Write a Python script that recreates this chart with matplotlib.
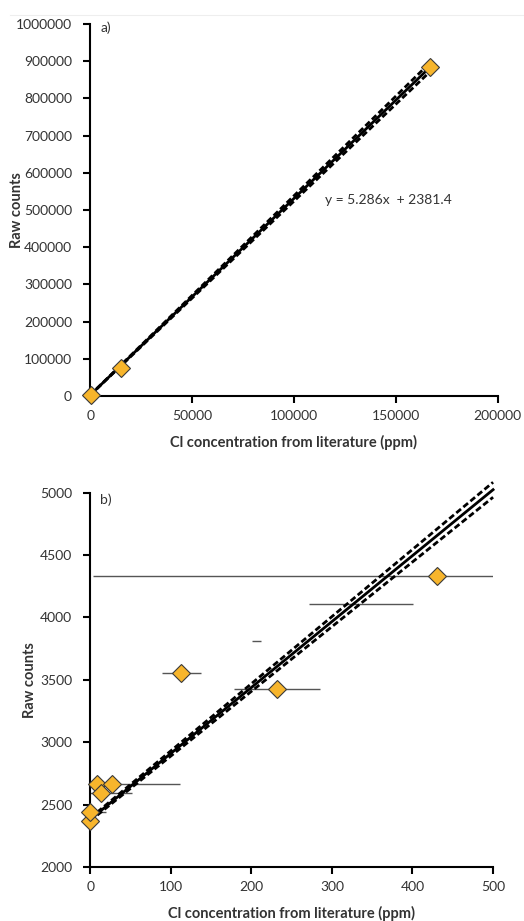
import matplotlib
matplotlib.use('Agg')
import matplotlib.pyplot as plt
from matplotlib.lines import Line2D

plt.rcParams['font.family'] = ['Lato', 'DejaVu Sans']

# ---- panel a data (calibration, full range) ----
a_x = [300, 15200, 166700]
a_y = [2400, 75700, 884000]
a_fit_x = [0, 166700]
a_fit_y = [2381.4, 883550]
a_up_y = [2420, 895500]
a_lo_y = [2340, 871500]
a_xticks = [0, 50000, 100000, 150000, 200000]
a_yticks = [0, 100000, 200000, 300000, 400000, 500000, 600000, 700000, 800000, 900000, 1000000]

# ---- panel b data (low range, with horizontal error bars) ----
b_x = [0, 0, 8, 13, 27, 113, 232, 430]
b_y = [2370, 2440, 2665, 2595, 2665, 3552, 3428, 4335]
b_xerr = [0, 20, 0, 39, 85, 24, 53, 426]
# error bars without a visible marker
b_bar_x = [206, 336]
b_bar_y = [3810, 4108]
b_bar_err = [5.5, 65]
b_fit_x = [0, 500]
b_fit_y = [2381.4, 5024.4]
b_up_y = [2392, 5084]
b_lo_y = [2370, 4964]
b_xticks = [0, 100, 200, 300, 400, 500]
b_yticks = [2000, 2500, 3000, 3500, 4000, 4500, 5000]

fill = '#F7B52C'
edge = '#3a3a3a'
tick_fs = 10
lab_fs = 10.5
dash = (0, (2.2, 1.1))

fig = plt.figure(figsize=(5.24, 9.21), dpi=100)
ax1 = fig.add_axes([0.172, 0.570, 0.778, 0.404])
ax2 = fig.add_axes([0.172, 0.0586, 0.769, 0.4064])

fig.add_artist(Line2D([0.02, 1.0], [0.984, 0.984], color='#eeeeee', lw=0.8))


def style(ax, ylab_x):
    for s in ['top', 'right']:
        ax.spines[s].set_visible(False)
    for s in ['left', 'bottom']:
        ax.spines[s].set_linewidth(1.5)
        ax.spines[s].set_color('black')
    ax.tick_params(axis='both', direction='out', length=5, width=1.5,
                   labelsize=tick_fs, colors='black', labelcolor='#333333')
    ax.tick_params(axis='y', pad=8)
    ax.tick_params(axis='x', pad=5)
    ax.ticklabel_format(style='plain', useOffset=False)
    ax.set_xlabel('Cl concentration from literature (ppm)', fontsize=lab_fs,
                  fontweight='bold', color='#333333', va='center')
    ax.set_ylabel('Raw counts', fontsize=lab_fs, fontweight='bold',
                  color='#333333', va='center')
    ax.xaxis.set_label_coords(0.5, -0.124)
    ax.yaxis.set_label_coords(ylab_x, 0.5)


# panel a
ax1.plot(a_fit_x, a_up_y, color='black', lw=2.0, ls=dash, zorder=2)
ax1.plot(a_fit_x, a_lo_y, color='black', lw=2.0, ls=dash, zorder=2)
ax1.plot(a_fit_x, a_fit_y, color='black', lw=2.0, zorder=3)
ax1.plot(a_x, a_y, ls='none', marker='D', ms=9, mfc=fill, mec=edge, mew=0.8,
         zorder=4, clip_on=False)
ax1.set_xlim(0, 200000)
ax1.set_ylim(0, 1000000)
ax1.set_xticks(a_xticks)
ax1.set_yticks(a_yticks)
style(ax1, -0.179)
ax1.text(0.025, 0.989, 'a)', transform=ax1.transAxes, fontsize=tick_fs,
         va='center', ha='left', color='#333333')
ax1.text(115200, 527000, 'y = 5.286x  + 2381.4', fontsize=tick_fs,
         va='center', ha='left', color='#333333')

# panel b
ax2.errorbar(b_x, b_y, xerr=b_xerr, fmt='none', ecolor='#555555', elinewidth=1.0,
             capsize=0, zorder=1)
ax2.errorbar(b_bar_x, b_bar_y, xerr=b_bar_err, fmt='none', ecolor='#555555',
             elinewidth=1.0, capsize=0, zorder=1)
ax2.plot(b_fit_x, b_up_y, color='black', lw=2.0, ls=dash, zorder=2, clip_on=False)
ax2.plot(b_fit_x, b_lo_y, color='black', lw=2.0, ls=dash, zorder=2, clip_on=False)
ax2.plot(b_fit_x, b_fit_y, color='black', lw=2.0, zorder=3, clip_on=False)
ax2.plot(b_x, b_y, ls='none', marker='D', ms=9, mfc=fill, mec=edge, mew=0.8,
         zorder=4, clip_on=False)
ax2.set_xlim(0, 500)
ax2.set_ylim(2000, 5000)
ax2.set_xticks(b_xticks)
ax2.set_yticks(b_yticks)
style(ax2, -0.149)
ax2.text(0.025, 0.981, 'b)', transform=ax2.transAxes, fontsize=tick_fs,
         va='center', ha='left', color='#333333')

fig.savefig('out.png', dpi=100)
